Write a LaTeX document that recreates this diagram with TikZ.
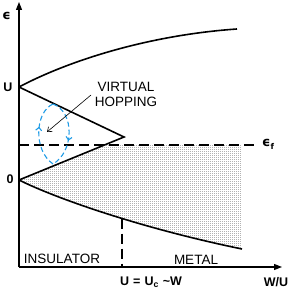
\documentclass[tikz,border=0pt]{standalone}
\usepackage{fontspec}
\setmainfont{Liberation Sans}
\newfontfamily\epsfam{DejaVu Sans}
\usepackage{tikz}
\usetikzlibrary{arrows.meta,patterns,decorations.markings}

\definecolor{hopblue}{RGB}{30,155,230}
\newcommand\txtfont{\fontsize{13.5}{15}\selectfont}
\newcommand\labfont{\fontsize{12.5}{14}\selectfont\bfseries}
\newcommand\epsfont{\epsfam\bfseries}

\pgfdeclarepatternformonly{finedots}{\pgfqpoint{0pt}{0pt}}{\pgfqpoint{1pt}{1pt}}%
  {\pgfqpoint{2pt}{2pt}}{\pgfpathrectangle{\pgfqpoint{0pt}{0pt}}{\pgfqpoint{1pt}{1pt}}\pgfusepath{fill}}

\begin{document}
\begin{tikzpicture}[
  x=1pt, y=-1pt,
  font=\txtfont,
  axis/.style={line width=1.3pt, -{Triangle[length=8pt,width=6pt]}},
  band/.style={line width=1.6pt},
  fermi/.style={line width=1.2pt, dash pattern=on 10pt off 5pt},
  axlbl/.style={font=\labfont, inner sep=0pt},
  epslbl/.style={font=\epsfont, inner sep=0pt},
  txt/.style={inner sep=0pt, align=center},
  hop/.style={hopblue, line width=1.1pt, dash pattern=on 5pt off 3pt,
    postaction={decorate}, decoration={markings,
      mark=at position 0.6 with {\arrow[solid]{Straight Barb[length=3pt,width=6pt]}}}},
]
  \useasboundingbox (0,0) rectangle (291,288);

  % axes and band corners
  \coordinate (O) at (19,267);
  \coordinate (ytop) at (19,2);
  \coordinate (xend) at (282,267);
  \coordinate (U) at (19,87);
  \coordinate (Z) at (19,180);
  \coordinate (tip) at (124,137);
  \coordinate (ub) at (237,29);
  \coordinate (lb) at (242,249);
  \coordinate (ef0) at (19,145);
  \coordinate (ef1) at (256,145);
  \coordinate (cross) at (104.5,145);
  \coordinate (fr) at (242,145);
  \coordinate (uc) at (122,218.6);
  \coordinate (ucx) at (122,267);

  % filled states below e_f
  \fill[pattern=finedots, pattern color=gray!60]
    (Z) -- (cross) -- (fr) -- (lb) .. controls (140,228) and (55,198) .. (Z);

  \draw[band] (U) .. controls (70,60) and (150,35) .. (ub);
  \draw[band] (U) -- (tip) -- (Z);
  \draw[band] (Z) .. controls (55,198) and (140,228) .. (lb);

  \draw[fermi] (ef0) -- (ef1);
  \draw[fermi] (uc) -- (ucx);

  \draw[axis] (O) -- (ytop);
  \draw[axis] (O) -- (xend);

  % hopping
  \coordinate (top) at (53,104);
  \coordinate (bot) at (53,164);
  \draw[hop] (bot) .. controls (33,150) and (35,112) .. (top);
  \draw[hop] (top) .. controls (75,112) and (74,152) .. (bot);

  \node[txt] (virt) at (126,94.5) {VIRTUAL\\HOPPING};
  \coordinate (hs) at (91,95);
  \coordinate (he) at (47,132);
  \draw[line width=0.6pt, -{Straight Barb[length=4pt,width=6pt]}] (hs) -- (he);

  % labels
  \node[epslbl, font=\epsfont\fontsize{13}{13}\selectfont] (le) at (6.5,16) {ϵ};
  \node[axlbl] (lu) at (8,87) {U};
  \node[axlbl] (lz) at (10,179.5) {0};
  \node[epslbl, anchor=west] (lef) at (262,144)
    {\fontsize{13}{13}\selectfont ϵ\raisebox{-3pt}{\fontsize{8}{8}\selectfont f}};
  \node[txt] (ins) at (62,259) {INSULATOR};
  \node[txt] (met) at (196,259.5) {METAL};
  \node[axlbl, anchor=west] (luc) at (120,282)
    {U\hspace{4pt}=\hspace{4pt}U\textsubscript{c}\hspace{4pt}\textasciitilde W};
  \node[axlbl] (lwu) at (276,282) {W/U};
\end{tikzpicture}
\end{document}
